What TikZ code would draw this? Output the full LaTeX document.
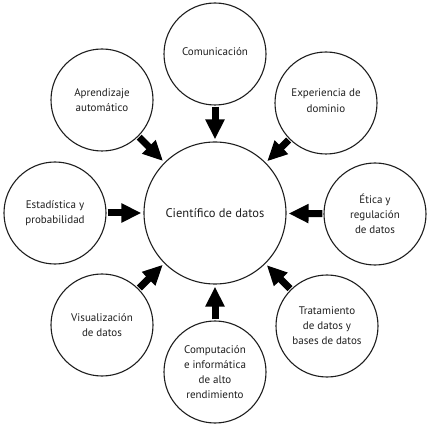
\documentclass[tikz,border=0pt]{standalone}
\usepackage{fontspec}
\setmainfont{PT Sans}
\usetikzlibrary{arrows.meta}
\definecolor{ink}{HTML}{1E1E1E}
\tikzset{
  outer/.style={circle,draw=ink,line width=1.1pt,minimum size=102pt,inner sep=0pt,align=center,
    text=ink,font=\fontsize{11}{15}\selectfont},
  hub/.style={circle,draw=ink,line width=1.1pt,minimum size=142pt,inner sep=0pt,align=center,
    text=ink,font=\fontsize{12.5}{15}\selectfont},
  bigarrow/.style={draw=black,line width=7pt,-{Triangle[width=18pt,length=20pt]},
    shorten <=1pt,shorten >=2pt}
}
\begin{document}
\begin{tikzpicture}[x=1pt,y=-1pt]
\useasboundingbox (0,0) rectangle (432,428);
\node[hub] (c) at (215,213) {Científico de datos};
\node[outer] (com) at (215,54) {\raisebox{4pt}{Comunicación}};
\node[outer] (apr) at (102,100) {Aprendizaje\\automático};
\node[outer] (exp) at (326,103) {\raisebox{5pt}{\shortstack{Experiencia de\\[3pt]dominio}}};
\node[outer] (est) at (55,213) {Estadística y\\probabilidad};
\node[outer] (eti) at (375,214) {Ética y\\regulación\\de datos};
\node[outer] (vis) at (102,325) {Visualización\\de datos};
\node[outer] (comp) at (215,372) {Computación\\e informática\\de alto\\rendimiento};
\node[outer] (tra) at (327,326) {Tratamiento\\de datos y\\bases de datos};
\foreach \n in {com,apr,exp,est,eti,vis,comp,tra}
  \draw[bigarrow] (\n) -- (c);
\end{tikzpicture}
\end{document}
